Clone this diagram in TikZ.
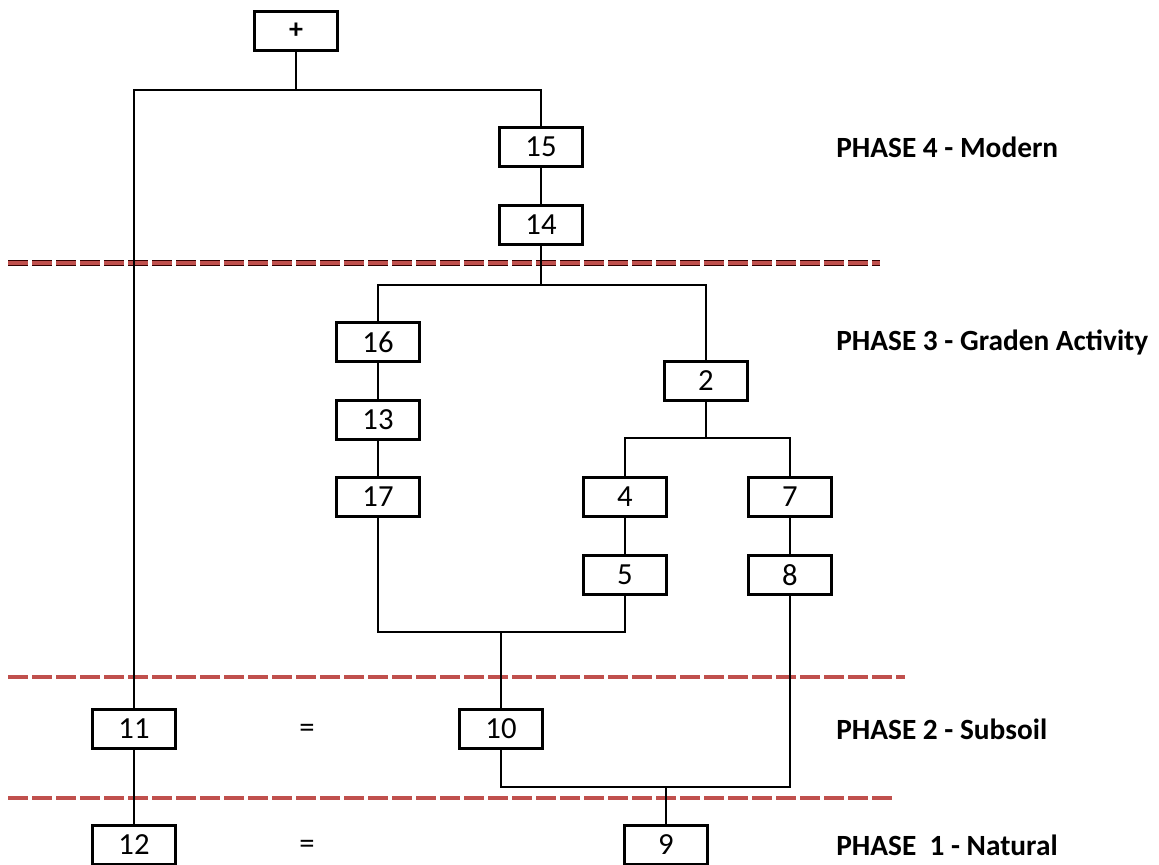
\documentclass[tikz,border=0pt]{standalone}
\usepackage{fontspec}
\setmainfont{Carlito}
\begin{document}
\begin{tikzpicture}[x=0.75pt,y=-0.75pt,
  box/.style={draw=black,line width=2.2pt,minimum width=62pt,minimum height=29pt,inner sep=0pt,font=\fontsize{23}{26}\selectfont,fill=white},
  conn/.style={line width=1.5pt},
  phase/.style={anchor=west,font=\fontsize{22}{24}\selectfont\bfseries,inner sep=0pt},
  eqs/.style={font=\fontsize{23}{26}\selectfont,inner sep=0pt},
  sepline/.style={line width=4.5pt,dash pattern=on 15pt off 3pt,draw=black!80!red},
  sepfill/.style={line width=2.5pt,dash pattern=on 15pt off 3pt,draw={rgb,255:red,192;green,80;blue,77}}
]
\useasboundingbox (0,0) rectangle (1159,864);
% separators
\draw[sepline] (8,263) -- (880,263);
\draw[sepfill] (8,263) -- (880,263);
\draw[sepfill] (8,677) -- (905,677);
\draw[sepfill] (8,798) -- (895,798);
% nodes
\node[box,font=\fontsize{21}{24}\selectfont\bfseries] (plus) at (296,31) {+};
\node[box] (n15) at (541,147) {15};
\node[box] (n14) at (541,225) {14};
\node[box] (n16) at (378,342) {16};
\node[box] (n13) at (378,420) {13};
\node[box] (n17) at (378,497) {17};
\node[box] (n2) at (706,381) {2};
\node[box] (n4) at (625,497) {4};
\node[box] (n5) at (625,575) {5};
\node[box] (n7) at (790,497) {7};
\node[box] (n8) at (790,575) {8};
\node[box] (n11) at (134,729) {11};
\node[box] (n10) at (501,729) {10};
\node[box] (n12) at (134,845) {12};
\node[box] (n9) at (666,845) {9};
\node[eqs] (eq1) at (307,731) {=};
\node[eqs] (eq2) at (307,847) {=};
% junction coordinates
\coordinate (j1) at (296,90);
\coordinate (j2) at (541,285);
\coordinate (j3) at (706,438);
\coordinate (j4) at (501,632);
\coordinate (j5) at (666,787);
% connectors
\draw[conn] (plus.south) -- (j1);
\draw[conn] (n11.north) |- (j1) -| (n15.north);
\draw[conn] (n15) -- (n14);
\draw[conn] (n14.south) -- (j2);
\draw[conn] (n16.north) |- (j2) -| (n2.north);
\draw[conn] (n16) -- (n13);
\draw[conn] (n13) -- (n17);
\draw[conn] (n2.south) -- (j3);
\draw[conn] (n4.north) |- (j3) -| (n7.north);
\draw[conn] (n4) -- (n5);
\draw[conn] (n7) -- (n8);
\draw[conn] (n17.south) |- (j4) -| (n5.south);
\draw[conn] (j4) -- (n10.north);
\draw[conn] (n10.south) |- (j5) -| (n8.south);
\draw[conn] (j5) -- (n9.north);
\draw[conn] (n11) -- (n12);
% labels
\node[phase] (p4) at (836,147) {PHASE 4 - Modern};
\node[phase] (p3) at (836,342) {PHASE 3 - Graden Activity};
\node[phase] (p2) at (836,729) {PHASE 2 - Subsoil};
\node[phase] (p1) at (836,845) {PHASE~~1 - Natural};
\end{tikzpicture}
\end{document}
